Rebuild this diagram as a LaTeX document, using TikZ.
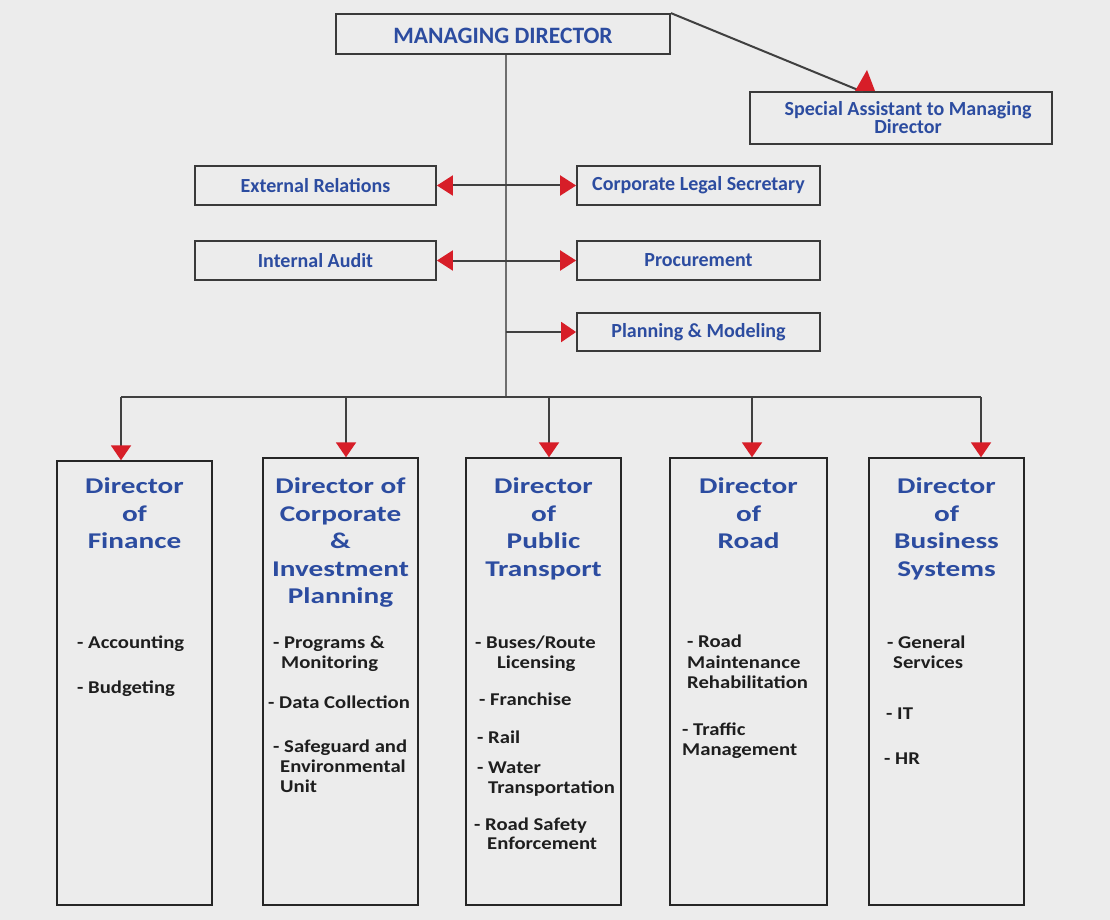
\documentclass[tikz,border=0pt]{standalone}
\usepackage{fontspec}
\setmainfont{Carlito}
\newfontfamily\itemfont{Carlito}[FakeStretch=1.15]
\newfontfamily\titlefont{Carlito}[FakeStretch=1.3]
\usetikzlibrary{arrows.meta}
\definecolor{bg}{HTML}{ECECEC}
\definecolor{txtblue}{RGB}{44,76,160}
\definecolor{arrred}{RGB}{215,30,40}
\definecolor{boxline}{HTML}{3A3A3A}
\definecolor{connline}{HTML}{404040}
\definecolor{trunkline}{HTML}{6E6E6E}
\definecolor{itemtxt}{HTML}{1E1E1E}
\tikzset{
  smallbox/.style={draw=boxline, line width=1.8pt, inner sep=0pt, align=center,
    font=\bfseries\fontsize{20}{18}\selectfont, text=txtblue},
  dirbox/.style={draw=black!85, line width=1.4pt, inner sep=0pt},
  dirtitle/.style={anchor=north, inner sep=0pt, align=center, text=txtblue,
    font=\titlefont\bfseries\fontsize{22.5}{27.5}\selectfont},
  itm/.style={anchor=base west, inner sep=0pt, text=itemtxt,
    font=\itemfont\bfseries\fontsize{18}{20}\selectfont},
  conn/.style={draw=connline, line width=2pt},
  trunk/.style={draw=trunkline, line width=2.4pt},
  redtip/.style={-{Triangle[width=20pt,length=15pt,color=arrred]}},
  dbltip/.style={{Triangle[width=20pt,length=16pt,color=arrred]}-{Triangle[width=20pt,length=16pt,color=arrred]}}
}
\begin{document}
\begin{tikzpicture}[x=1pt,y=-1pt]
\fill[bg] (0,0) rectangle (1110,920);
\useasboundingbox (0,0) rectangle (1110,920);

% top level
\node[smallbox, minimum width=334pt, minimum height=40pt, text height=20pt, text depth=0pt,
  font=\bfseries\fontsize{23.5}{24}\selectfont] (md) at (503,34) {MANAGING DIRECTOR};
\node[smallbox, minimum width=302pt, minimum height=52pt, inner xsep=0pt] (sa) at (901,118) {\hspace*{14pt}Special Assistant to Managing\\\hspace*{14pt}Director};

% staff boxes
\node[smallbox, minimum width=241pt, minimum height=39pt] (ext) at (315.5,185.5) {External Relations};
\node[smallbox, minimum width=243pt, minimum height=39pt] (cls) at (698.5,185.5) {Corporate Legal Secretary};
\node[smallbox, minimum width=241pt, minimum height=39pt] (ia) at (315.5,260.5) {Internal Audit};
\node[smallbox, minimum width=243pt, minimum height=39pt] (proc) at (698.5,260.5) {Procurement};
\node[smallbox, minimum width=243pt, minimum height=38pt] (pm) at (698.5,332) {Planning \& Modeling};

% director boxes
\node[dirbox, minimum width=155pt, minimum height=444pt] (d1) at (134.5,683) {};
\node[dirbox, minimum width=155pt, minimum height=447pt] (d2) at (340.5,681.5) {};
\node[dirbox, minimum width=155pt, minimum height=447pt] (d3) at (543.5,681.5) {};
\node[dirbox, minimum width=157pt, minimum height=447pt] (d4) at (748.5,681.5) {};
\node[dirbox, minimum width=155pt, minimum height=447pt] (d5) at (946.5,681.5) {};

% titles
\node[dirtitle] (t1) at (134.5,478) {Director\\of\\Finance};
\node[dirtitle] (t2) at (340.5,478) {Director of\\Corporate\\\&\\Investment\\Planning};
\node[dirtitle] (t3) at (543.5,478) {Director\\of\\Public\\Transport};
\node[dirtitle] (t4) at (748.5,478) {Director\\of\\Road};
\node[dirtitle] (t5) at (946.5,478) {Director\\of\\Business\\Systems};

% items
\node[itm] (i11) at (77,648) {- Accounting};
\node[itm] (i12) at (77,693) {- Budgeting};

\node[itm] (i21) at (273,648) {- Programs \&};
\node[itm] (i22) at (281,668) {Monitoring};
\node[itm] (i23) at (268,708) {- Data Collection};
\node[itm] (i24) at (273,752) {- Safeguard and};
\node[itm] (i25) at (280,772) {Environmental};
\node[itm] (i26) at (280,792) {Unit};

\node[itm] (i31) at (475,648) {- Buses/Route};
\node[itm] (i32) at (497,668) {Licensing};
\node[itm] (i33) at (479,705) {- Franchise};
\node[itm] (i34) at (477,743) {- Rail};
\node[itm] (i35) at (477,773) {- Water};
\node[itm] (i36) at (488,793) {Transportation};
\node[itm] (i37) at (474,830) {- Road Safety};
\node[itm] (i38) at (487,849) {Enforcement};

\node[itm] (i41) at (687,647) {- Road};
\node[itm] (i42) at (687,668) {Maintenance};
\node[itm] (i43) at (687,688) {Rehabilitation};
\node[itm] (i44) at (682,735) {- Traffic};
\node[itm] (i45) at (682,755) {Management};

\node[itm] (i51) at (887,648) {- General};
\node[itm] (i52) at (893,668) {Services};
\node[itm] (i53) at (886,719) {- IT};
\node[itm] (i54) at (884,764) {- HR};

% connectors
\coordinate (hub) at (506,397);
\coordinate (f1) at (121,397);
\coordinate (f2) at (346,397);
\coordinate (f3) at (549,397);
\coordinate (f4) at (752,397);
\coordinate (f5) at (981,397);
\coordinate (sain) at (863,92);

\draw[trunk] (md.south -| hub) -- (hub);
\draw[conn] (md.north east) -- (sain);
\fill[arrred] (sain) ++(4,-22) -- ++(8,21) -- ++(-20,0) -- cycle;

\draw[conn, dbltip] (ext.east) -- (cls.west);
\draw[conn, dbltip] (ia.east) -- (proc.west);
\draw[conn, redtip] (pm.west -| hub) -- (pm.west);

\draw[conn] (f1) -- (f5);
\draw[conn, redtip] (f1) -- (f1 |- d1.north);
\draw[conn, redtip] (f2) -- (f2 |- d2.north);
\draw[conn, redtip] (f3) -- (f3 |- d3.north);
\draw[conn, redtip] (f4) -- (f4 |- d4.north);
\draw[conn, redtip] (f5) -- (f5 |- d5.north);
\end{tikzpicture}
\end{document}
